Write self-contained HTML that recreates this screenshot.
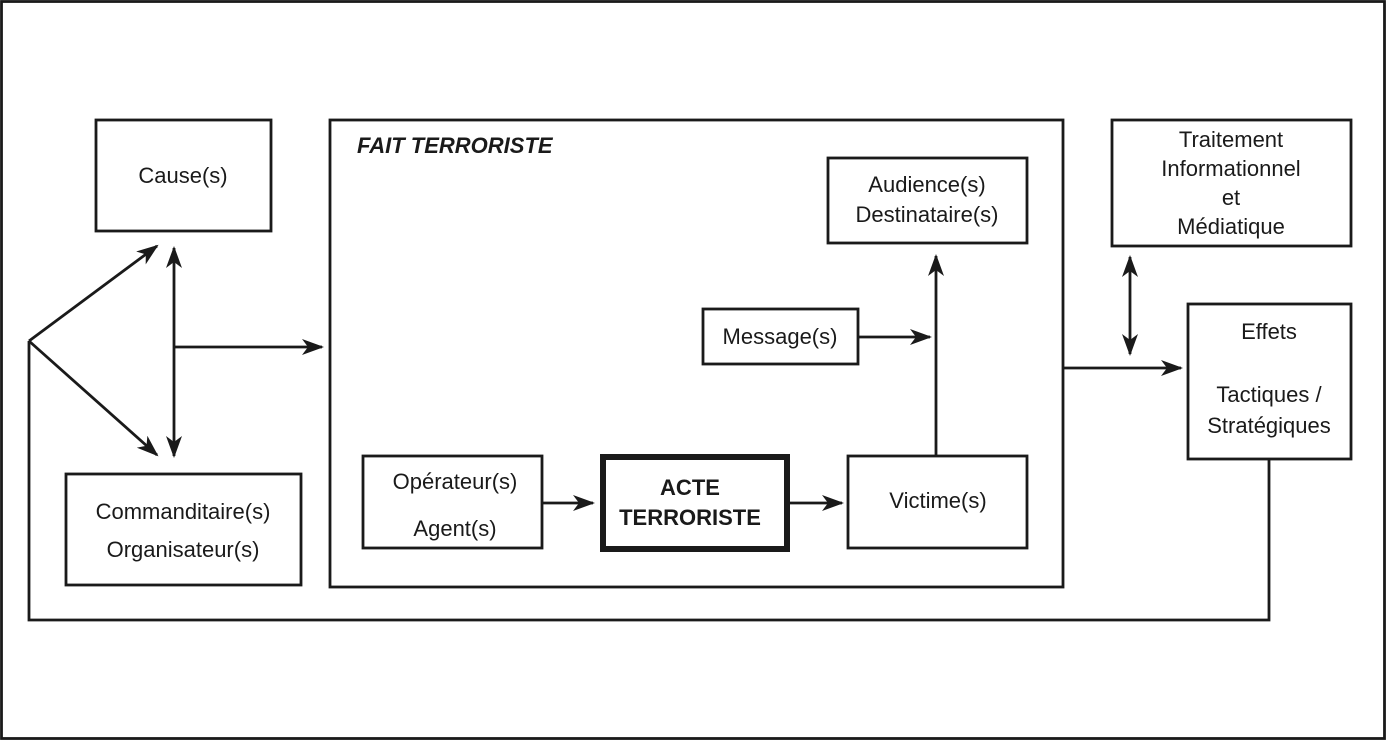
<!DOCTYPE html>
<html><head><meta charset="utf-8"><style>
html,body{margin:0;padding:0;background:#fff}
svg{display:block}
text{font-family:"Liberation Sans",sans-serif;font-size:22px;fill:#1a1a1a;text-anchor:middle}
</style></head><body>
<svg width="1390" height="742" viewBox="0 0 1390 742">
<defs>
<marker id="a" markerWidth="22" markerHeight="16" refX="20" refY="8" orient="auto" markerUnits="userSpaceOnUse">
<path d="M0,0 L22,8 L0,16 L6,8 Z" fill="#1a1a1a"/></marker>
<marker id="s" markerWidth="22" markerHeight="16" refX="2" refY="8" orient="auto" markerUnits="userSpaceOnUse">
<path d="M22,0 L0,8 L22,16 L16,8 Z" fill="#1a1a1a"/></marker>
</defs>
<g fill="none" stroke="#1a1a1a" stroke-width="2.8">
<rect x="1.5" y="1.5" width="1383" height="737"/>
<rect x="96" y="120" width="175" height="111"/>
<rect x="66" y="474" width="235" height="111"/>
<rect x="330" y="120" width="733" height="467"/>
<rect x="828" y="158" width="199" height="85"/>
<rect x="1112" y="120" width="239" height="126"/>
<rect x="1188" y="304" width="163" height="155"/>
<rect x="703" y="309" width="155" height="55"/>
<rect x="363" y="456" width="179" height="92"/>
<rect x="848" y="456" width="179" height="92"/>
<rect x="603" y="457" width="184" height="92" stroke-width="6"/>
<line x1="29" y1="341" x2="157" y2="246" marker-end="url(#a)"/>
<line x1="29" y1="341" x2="157" y2="455" marker-end="url(#a)"/>
<line x1="174" y1="248" x2="174" y2="456" marker-start="url(#s)" marker-end="url(#a)"/>
<line x1="174" y1="347" x2="322" y2="347" marker-end="url(#a)"/>
<polyline points="29,341 29,620 1269,620 1269,459"/>
<line x1="542" y1="503" x2="593" y2="503" marker-end="url(#a)"/>
<line x1="787" y1="503" x2="842" y2="503" marker-end="url(#a)"/>
<line x1="936" y1="456" x2="936" y2="256" marker-end="url(#a)"/>
<line x1="858" y1="337" x2="930" y2="337" marker-end="url(#a)"/>
<line x1="1063" y1="368" x2="1181" y2="368" marker-end="url(#a)"/>
<line x1="1130" y1="257" x2="1130" y2="354" marker-start="url(#s)" marker-end="url(#a)"/>
</g>
<text x="183" y="183">Cause(s)</text>
<text x="183" y="519">Commanditaire(s)</text>
<text x="183" y="557">Organisateur(s)</text>
<text x="357" y="153" style="text-anchor:start;font-weight:bold;font-style:italic">FAIT TERRORISTE</text>
<text x="927" y="192">Audience(s)</text>
<text x="927" y="222">Destinataire(s)</text>
<text x="1231" y="147">Traitement</text>
<text x="1231" y="176">Informationnel</text>
<text x="1231" y="205">et</text>
<text x="1231" y="234">Médiatique</text>
<text x="1269" y="339">Effets</text>
<text x="1269" y="402">Tactiques /</text>
<text x="1269" y="433">Stratégiques</text>
<text x="780" y="344">Message(s)</text>
<text x="455" y="489">Opérateur(s)</text>
<text x="455" y="536">Agent(s)</text>
<text x="690" y="495" style="font-weight:bold">ACTE</text>
<text x="690" y="525" style="font-weight:bold">TERRORISTE</text>
<text x="938" y="508">Victime(s)</text>
</svg>
</body></html>
